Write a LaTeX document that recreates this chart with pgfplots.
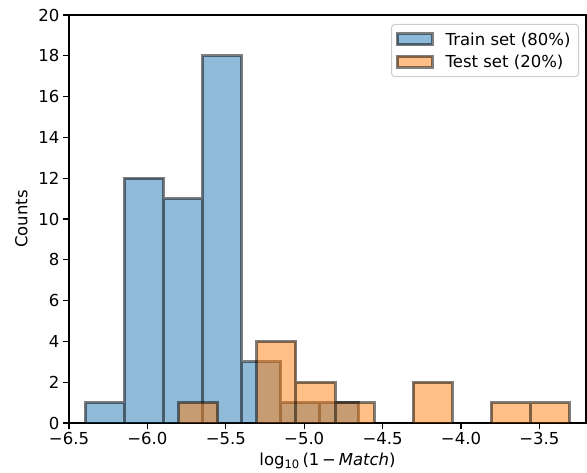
\documentclass[border=0pt]{standalone}
\usepackage{fontspec}
\setmainfont{DejaVu Sans}
\usepackage{pgfplots}
\pgfplotsset{compat=1.18}
\definecolor{tabblue}{RGB}{31,119,180}
\definecolor{taborange}{RGB}{255,127,14}
\newcommand{\fs}{\fontsize{16.5}{20}\selectfont}
\begin{document}
\begin{tikzpicture}[font=\fs]
\begin{axis}[
  at={(0,0)}, anchor=south west,
  scale only axis, width=517pt, height=408pt,
  xmin=-6.5, xmax=-3.203, ymin=0, ymax=20,
  xtick={-6.5,-6,-5.5,-5,-4.5,-4,-3.5},
  xticklabels={−6.5,−6.0,−5.5,−5.0,−4.5,−4.0,−3.5},
  ytick={0,2,...,20},
  tick align=outside, tick pos=left,
  major tick length=6pt,
  every tick/.style={black, line width=1.3pt},
  axis line style={black, line width=1.3pt},
  /pgf/number format/assume math mode=true,
  tick label style={font=\fs},
  label style={font=\fs},
  xlabel={log\textsubscript{10}\,(1\,−\,\textit{Match})},
  ylabel={Counts},
  xlabel style={at={(axis description cs:0.5,-0.093)}, anchor=center},
  ylabel style={at={(axis description cs:-0.092,0.5)}, anchor=center},
  legend cell align=left,
  legend style={at={(0.9865,0.978)}, anchor=north east, draw=black!20,
    rounded corners=3pt, fill=white, inner xsep=4pt, inner ysep=6.5pt,
    row sep=5pt, line width=1pt, font=\fs,
    nodes={inner xsep=4pt, inner ysep=1.5pt}},
]
\addplot[ybar, bar width=0.249, bar shift=0pt, fill=tabblue, fill opacity=0.5,
  draw=black, draw opacity=0.5, line width=3pt,
  legend image code/.code={\draw[sharp corners, fill=tabblue, fill opacity=0.5, draw=black, draw opacity=0.5, line width=3pt] (0pt,-5.5pt) rectangle (35pt,5.5pt);}]
coordinates {(-6.2715,1) (-6.0225,12) (-5.7735,11) (-5.5245,18) (-5.2755,3) (-5.0265,1) (-4.7775,1)};
\addlegendentry{\hspace{8pt}Train set (80\%)}
\addplot[ybar, bar width=0.249, bar shift=0pt, fill=taborange, fill opacity=0.5,
  draw=black, draw opacity=0.5, line width=3pt,
  legend image code/.code={\draw[sharp corners, fill=taborange, fill opacity=0.5, draw=black, draw opacity=0.5, line width=3pt] (0pt,-5.5pt) rectangle (35pt,5.5pt);}]
coordinates {(-5.675,1) (-5.426,0) (-5.177,4) (-4.928,2) (-4.679,1) (-4.430,0) (-4.181,2) (-3.932,0) (-3.683,1) (-3.434,1)};
\addlegendentry{\hspace{8pt}Test set (20\%)}
\end{axis}
\pgfresetboundingbox
\path[use as bounding box] (-69pt,-49pt) rectangle (518pt,423pt);
\end{tikzpicture}
\end{document}
